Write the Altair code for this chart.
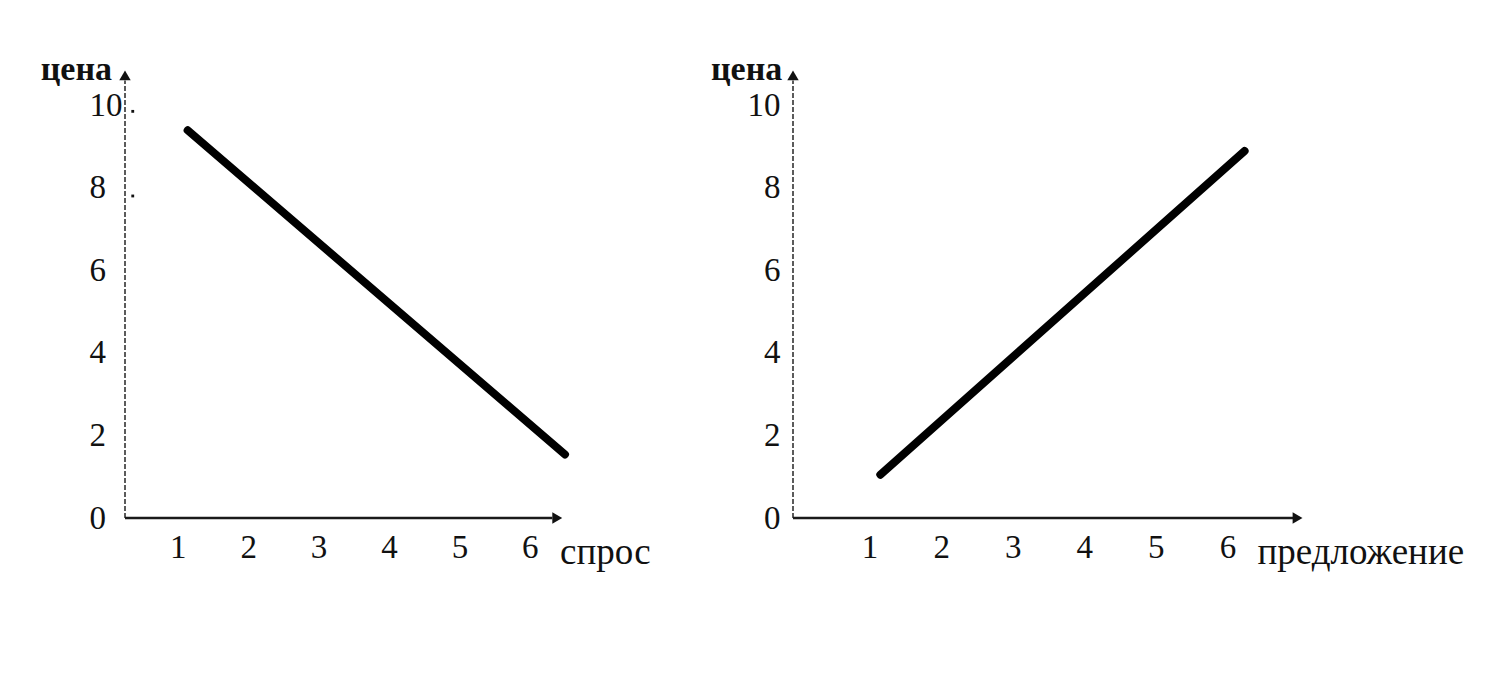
import altair as alt
import pandas as pd

# ---- data ----
demand_qty = [1.14, 6.5]
demand_price = [9.39, 1.54]
supply_qty = [1.15, 6.24]
supply_price = [1.05, 8.89]

y_ticks = [0, 2, 4, 6, 8, 10]
x_ticks = [1, 2, 3, 4, 5, 6]

y_title = "цена"
left_x_title = "спрос"
right_x_title = "предложение"

FONT = "Liberation Serif"
INK = "#111111"
Y_DOM = [0, 10.9]
HEIGHT = 450


def panel(qty, price, x_dom, width, x_title, arrow_x, rule_x_end, ytitle_x, xtitle_x,
          ylab_align, ylab_pad, dots=None):
    xs = alt.Scale(domain=x_dom, nice=False, zero=False)
    ys = alt.Scale(domain=Y_DOM, nice=False, zero=False)
    x_axis = alt.Axis(values=x_ticks, domain=False, ticks=False, grid=False, title=None,
                      labelFont=FONT, labelFontSize=33, labelColor=INK, labelPadding=13,
                      format="d")
    y_axis = alt.Axis(values=y_ticks, domain=False, ticks=False, grid=False, title=None,
                      labelFont=FONT, labelFontSize=33, labelColor=INK, labelPadding=ylab_pad,
                      labelAlign=ylab_align, format="d")

    def X(f):
        return alt.X(f, type="quantitative", scale=xs, axis=x_axis)

    def Y(f):
        return alt.Y(f, type="quantitative", scale=ys, axis=y_axis)

    x0 = x_dom[0]
    line_df = pd.DataFrame({"x": qty, "y": price})
    line = alt.Chart(line_df).mark_line(color="black", strokeWidth=8, strokeCap="round", clip=False).encode(
        x=X("x"), y=Y("y"))

    yrule = alt.Chart(pd.DataFrame({"x": [x0], "y": [0], "y2": [10.6]})).mark_rule(
        color="#333333", strokeWidth=1.6, strokeDash=[5, 2]).encode(x=X("x"), y=Y("y"), y2="y2:Q")
    xrule = alt.Chart(pd.DataFrame({"x": [x0], "x2": [rule_x_end], "y": [0]})).mark_rule(
        color="#1a1a1a", strokeWidth=2.5).encode(x=X("x"), x2="x2:Q", y=Y("y"))

    up = alt.Chart(pd.DataFrame({"x": [x0], "y": [10.72]})).mark_point(
        shape="triangle-up", filled=True, size=130, color=INK, opacity=1).encode(x=X("x"), y=Y("y"))
    right = alt.Chart(pd.DataFrame({"x": [arrow_x], "y": [0]})).mark_point(
        shape="triangle-right", filled=True, size=130, color=INK, opacity=1).encode(x=X("x"), y=Y("y"))

    yt = alt.Chart(pd.DataFrame({"x": [ytitle_x], "y": [10.62], "t": [y_title]})).mark_text(
        align="right", baseline="alphabetic", font=FONT, fontSize=34, fontWeight="bold", color=INK).encode(
        x=X("x"), y=Y("y"), text="t:N")
    xt = alt.Chart(pd.DataFrame({"x": [xtitle_x], "y": [-1.12], "t": [x_title]})).mark_text(
        align="left", baseline="alphabetic", font=FONT, fontSize=37, color=INK).encode(
        x=X("x"), y=Y("y"), text="t:N")

    layers = [yrule, xrule, up, right, line, yt, xt]
    if dots:
        dd = pd.DataFrame({"x": dots[0], "y": dots[1]})
        layers.append(alt.Chart(dd).mark_point(shape="square", filled=True, size=8, color=INK, opacity=1).encode(
            x=X("x"), y=Y("y")))
    return alt.layer(*layers).properties(width=width, height=HEIGHT)


left = panel(demand_qty, demand_price, [0.25, 6.5], 440, left_x_title,
             arrow_x=6.39, rule_x_end=6.32, ytitle_x=0.065, xtitle_x=6.43,
             ylab_align="left", ylab_pad=36,
             dots=([0.36, 0.36], [9.85, 7.8]))
right = panel(supply_qty, supply_price, [-0.07, 7.07], 511, right_x_title,
              arrow_x=6.98, rule_x_end=6.92, ytitle_x=-0.22, xtitle_x=6.42,
              ylab_align="right", ylab_pad=13)

chart = alt.hconcat(left, right, spacing=228, bounds="flush").properties(
    padding={"left": 32, "top": 44, "right": 5, "bottom": 5}
).configure(background="white", view=alt.ViewConfig(strokeWidth=0, stroke="transparent"))

chart.save("out.html", embed_options={"renderer": "svg", "actions": False})
